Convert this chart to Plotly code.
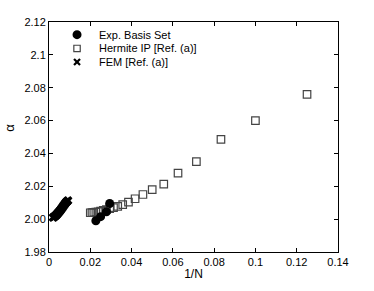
import plotly.graph_objects as go

# Data
exp_x = [0.0227, 0.0250, 0.0278, 0.0294]
exp_y = [1.9990, 2.0015, 2.0045, 2.0095]

herm_x = [0.125, 0.1, 0.0833, 0.0714, 0.0625, 0.0556, 0.05, 0.0455, 0.0417,
          0.0385, 0.0357, 0.0333, 0.03125, 0.0294, 0.0278, 0.0263, 0.025,
          0.0238, 0.0227, 0.0217, 0.0208, 0.02]
herm_y = [2.076, 2.060, 2.0485, 2.035, 2.028, 2.0213, 2.018, 2.015, 2.0124,
          2.0104, 2.0088, 2.0078, 2.0070, 2.0064, 2.0058, 2.0053, 2.0049,
          2.0045, 2.0043, 2.0041, 2.0040, 2.0039]

fem_x = [0.0020, 0.0024, 0.0028, 0.0032, 0.0036, 0.0040, 0.0044, 0.0048,
         0.0052, 0.0056, 0.0060, 0.0064, 0.0068, 0.0072, 0.0076, 0.0080,
         0.0084, 0.0088, 0.0092]
fem_y = [2.0010, 2.0013, 2.0017, 2.0021, 2.0026, 2.0032, 2.0038, 2.0044,
         2.0050, 2.0056, 2.0063, 2.0070, 2.0077, 2.0084, 2.0091, 2.0098,
         2.0104, 2.0109, 2.0114]

x_ticks = [0, 0.02, 0.04, 0.06, 0.08, 0.1, 0.12, 0.14]
x_ticktext = ["0", "0.02", "0.04", "0.06", "0.08", "0.1", "0.12", "0.14"]
y_ticks = [1.98, 2.00, 2.02, 2.04, 2.06, 2.08, 2.1, 2.12]
y_ticktext = ["1.98", "2.00", "2.02", "2.04", "2.06", "2.08", "2.1", "2.12"]

legend_labels = ["Exp. Basis Set", "Hermite IP [Ref. (a)]", "FEM [Ref. (a)]"]

FONT = "Liberation Sans, Arial, Helvetica, sans-serif"

fig = go.Figure()
fig.add_trace(go.Scatter(x=herm_x, y=herm_y, mode="markers", name=legend_labels[1],
                         marker=dict(symbol="square-open", size=7.5, color="#444",
                                     line=dict(width=1.2, color="#444"))))
fig.add_trace(go.Scatter(x=fem_x, y=fem_y, mode="markers", name=legend_labels[2],
                         marker=dict(symbol="x", size=8, color="black",
                                     line=dict(width=0))))
fig.add_trace(go.Scatter(x=exp_x, y=exp_y, mode="markers", name=legend_labels[0],
                         marker=dict(symbol="circle", size=9, color="black")))

axis_common = dict(showline=True, linecolor="black", linewidth=1, mirror="ticks",
                   ticks="inside", ticklen=4, tickcolor="black", showgrid=False,
                   zeroline=False, tickfont=dict(family=FONT, size=11, color="black"))

fig.update_xaxes(range=[0, 0.14], tickvals=x_ticks, ticktext=x_ticktext,
                 title=dict(text="1/N", font=dict(family=FONT, size=12, color="black"),
                            standoff=2), **axis_common)
fig.update_yaxes(range=[1.98, 2.12], tickvals=y_ticks, ticktext=y_ticktext,
                 **axis_common)

# Manual legend (compact rows as in the reference)
lx = 0.097  # paper x of marker
rows = [0.945, 0.885, 0.826]
shapes = []
shapes.append(dict(type="circle", xref="paper", yref="paper", xsizemode="pixel",
                   ysizemode="pixel", xanchor=lx, yanchor=rows[0], x0=-4.5, x1=4.5,
                   y0=-4.5, y1=4.5, fillcolor="black", line=dict(width=0)))
shapes.append(dict(type="rect", xref="paper", yref="paper", xsizemode="pixel",
                   ysizemode="pixel", xanchor=lx, yanchor=rows[1], x0=-3.2, x1=3.2,
                   y0=-3.2, y1=3.2, line=dict(color="#444", width=1.2)))
for a, b in [((-3, -3), (3, 3)), ((-3, 3), (3, -3))]:
    shapes.append(dict(type="line", xref="paper", yref="paper", xsizemode="pixel",
                       ysizemode="pixel", xanchor=lx, yanchor=rows[2], x0=a[0], x1=b[0],
                       y0=a[1], y1=b[1], line=dict(color="black", width=2.2)))

annotations = []
for lab, ry in zip(legend_labels, rows):
    annotations.append(dict(x=0.166, y=ry, xref="paper", yref="paper", text=lab,
                            showarrow=False, xanchor="left", yanchor="middle",
                            font=dict(family=FONT, size=11, color="black")))
annotations.append(dict(x=-0.135, y=0.54, xref="paper", yref="paper", text="α",
                        showarrow=False, textangle=-90, xanchor="center", yanchor="middle",
                        font=dict(family=FONT, size=13, color="black")))

fig.update_layout(width=374, height=291, margin=dict(l=49, r=36, t=22, b=33),
                  paper_bgcolor="white", plot_bgcolor="white", showlegend=False,
                  shapes=shapes, annotations=annotations,
                  font=dict(family=FONT, size=11, color="black"))

# remove the default 8px page margin so the figure fills the window exactly
fig.write_html("out.html", config={"displayModeBar": False},
               post_script="document.body.style.margin='0';document.body.style.overflow='hidden';")
